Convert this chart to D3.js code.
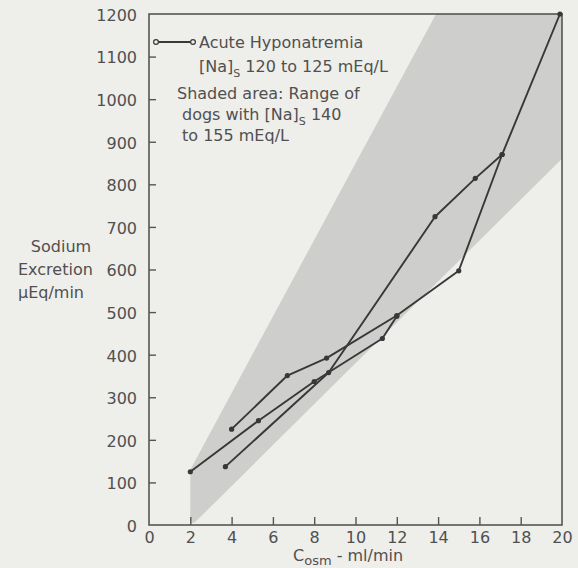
<!DOCTYPE html>
<html>
<head>
<meta charset="utf-8">
<script src="https://cdn.jsdelivr.net/npm/d3@7/dist/d3.min.js"></script>
<style>
  html, body { margin: 0; padding: 0; background: #eeeeeb; }
  svg { display: block; }
  text { font-family: "DejaVu Sans", sans-serif; fill: #505050; }
</style>
</head>
<body>
<svg id="chart" width="578" height="568"></svg>
<script>
// ---- data ----
const xTicks = [0, 2, 4, 6, 8, 10, 12, 14, 16, 18, 20];
const yTicks = [0, 100, 200, 300, 400, 500, 600, 700, 800, 900, 1000, 1100, 1200];

// Acute hyponatremia dogs (Cosm ml/min, Na excretion µEq/min)
const dogA = [[2.0, 125], [5.3, 245], [8.0, 337], [11.3, 438], [12.0, 490]];
const dogB = [[3.7, 137], [8.7, 358], [13.85, 724], [15.8, 814], [17.1, 870]];
const dogC = [[4.0, 225], [6.7, 351], [8.6, 392], [12.0, 492], [15.0, 597], [17.1, 870], [19.9, 1200]];

// Range of normal dogs ([Na]s 140 to 155) - shaded polygon
const normalRange = [[2.0, 5], [2.0, 130], [13.9, 1200], [20, 1200], [20, 860], [2.2, 5]];

const legendLines = ["Acute Hyponatremia"];
// ---- drawing ----
const svg = d3.select("#chart");
const x = d3.scaleLinear().domain([0, 20]).range([149, 562]);
const y = d3.scaleLinear().domain([0, 1200]).range([525, 14]);
const ink = "#383838";

// shaded area
svg.append("path")
  .attr("d", d3.line().x(d => x(d[0])).y(d => y(d[1]))(normalRange) + "Z")
  .attr("fill", "#cececc")
  .attr("stroke", "none");

// frame
svg.append("rect")
  .attr("x", x(0)).attr("y", y(1200))
  .attr("width", x(20) - x(0)).attr("height", y(0) - y(1200))
  .attr("fill", "none").attr("stroke", "#555").attr("stroke-width", 1.6);

// x axis
const xAxis = d3.axisBottom(x).tickValues(xTicks).tickFormat(d3.format("d"))
  .tickSizeInner(-8).tickSizeOuter(0).tickPadding(16);
const gx = svg.append("g").attr("transform", `translate(0,${y(0)})`).call(xAxis);
gx.select(".domain").remove();
gx.selectAll(".tick line").attr("stroke", "#555").attr("stroke-width", 1.4)
  .filter(d => d === 0 || d === 20).remove();
gx.selectAll(".tick text").attr("font-size", 16).attr("fill", "#505050")
  .attr("font-family", "DejaVu Sans, sans-serif").attr("dy", "0.1em");

// y axis
const yAxis = d3.axisLeft(y).tickValues(yTicks).tickFormat(d3.format("d"))
  .tickSizeInner(-7).tickSizeOuter(0).tickPadding(12);
const gy = svg.append("g").attr("transform", `translate(${x(0)},0)`).call(yAxis);
gy.select(".domain").remove();
gy.selectAll(".tick line").attr("stroke", "#555").attr("stroke-width", 1.4)
  .filter(d => d === 0 || d === 1200).remove();
gy.selectAll(".tick text").attr("font-size", 16).attr("fill", "#505050")
  .attr("font-family", "DejaVu Sans, sans-serif").attr("dy", "0.4em");

// data lines
const line = d3.line().x(d => x(d[0])).y(d => y(d[1]));
[dogA, dogB, dogC].forEach(s => {
  svg.append("path").attr("d", line(s))
    .attr("fill", "none").attr("stroke", ink).attr("stroke-width", 1.9)
    .attr("stroke-linejoin", "round");
  svg.selectAll(null).data(s).enter().append("circle")
    .attr("cx", d => x(d[0])).attr("cy", d => y(d[1])).attr("r", 2.6)
    .attr("fill", ink);
});

// legend
svg.append("line").attr("x1", 156).attr("x2", 193).attr("y1", 42).attr("y2", 42)
  .attr("stroke", ink).attr("stroke-width", 1.9);
[156, 193].forEach(cx => svg.append("circle").attr("cx", cx).attr("cy", 42).attr("r", 2.4)
  .attr("fill", "#eeeeeb").attr("stroke", ink).attr("stroke-width", 1.2));

svg.append("text").attr("x", 199).attr("y", 48).attr("font-size", 16).text(legendLines[0]);
const l2 = svg.append("text").attr("x", 199).attr("y", 72).attr("font-size", 16);
l2.append("tspan").text("[Na]");
l2.append("tspan").text("S").attr("font-size", 11).attr("dy", 5);
l2.append("tspan").text(" 120 to 125 mEq/L").attr("dy", -5);

svg.append("text").attr("x", 177).attr("y", 99).attr("font-size", 16).text("Shaded area: Range of");
const l4 = svg.append("text").attr("x", 182).attr("y", 120).attr("font-size", 16);
l4.append("tspan").text("dogs with [Na]");
l4.append("tspan").text("S").attr("font-size", 11).attr("dy", 5);
l4.append("tspan").text("  140").attr("dy", -5);
svg.append("text").attr("x", 182).attr("y", 141).attr("font-size", 16).text("to 155 mEq/L");

// axis titles
svg.append("text").attr("x", 61).attr("y", 252).attr("font-size", 16).attr("text-anchor", "middle").text("Sodium");
svg.append("text").attr("x", 18).attr("y", 275).attr("font-size", 16).text("Excretion");
svg.append("text").attr("x", 18).attr("y", 298).attr("font-size", 16).text("\u03BCEq/min");

const xl = svg.append("text").attr("x", 293).attr("y", 561).attr("font-size", 16);
xl.append("tspan").text("C");
xl.append("tspan").text("osm").attr("font-size", 13).attr("dy", 4);
xl.append("tspan").text(" - ml/min").attr("dy", -4);
</script>
</body>
</html>
